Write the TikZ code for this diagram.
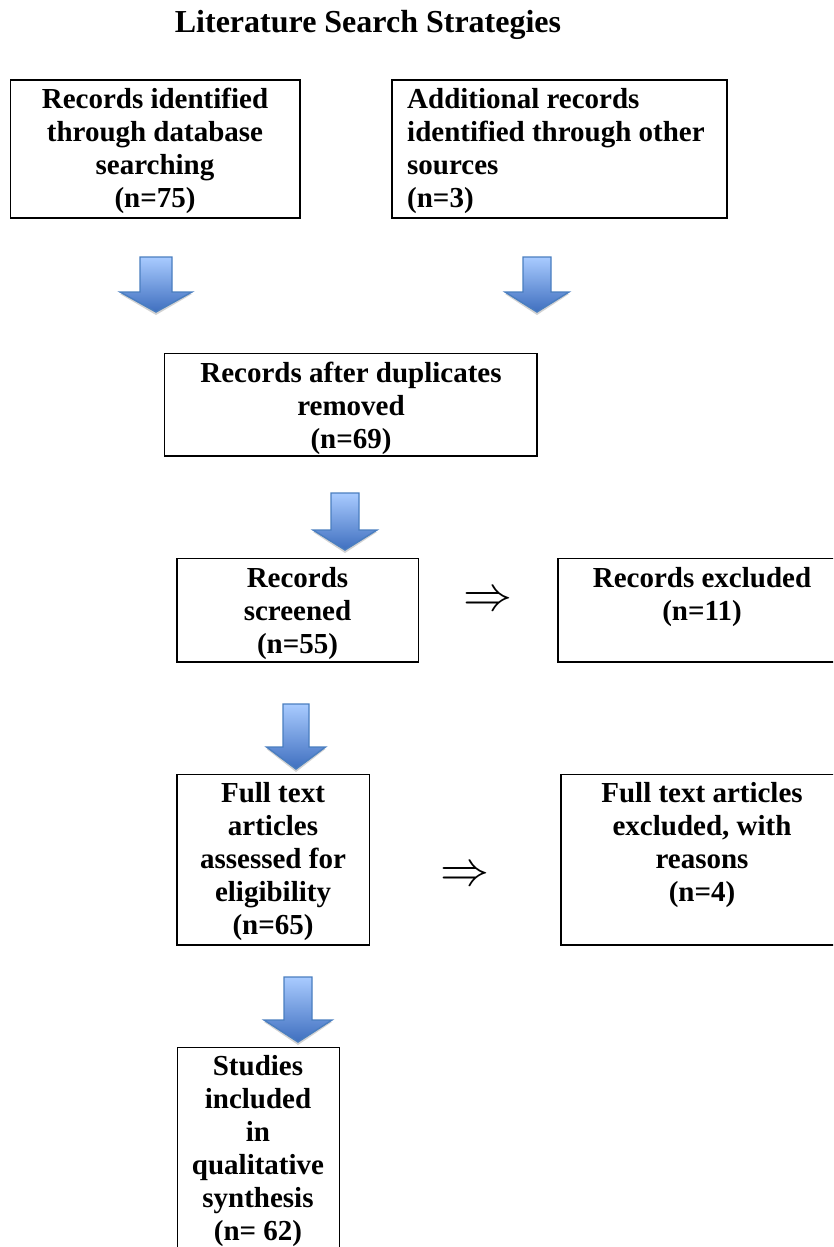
\documentclass[tikz,border=0pt]{standalone}
\usepackage{fontspec}
\setmainfont{Liberation Serif}
\usepackage{graphicx}
\usetikzlibrary{fit}
\definecolor{arrlight}{HTML}{A9CBFF}
\definecolor{arrdark}{HTML}{3F6FBF}
\definecolor{arredge}{HTML}{4A7EC0}
\tikzset{
  boxr/.style={draw=black, line width=1.6pt, inner sep=0pt},
  txt/.style={font=\fontsize{29}{33}\selectfont\bfseries, align=center, inner sep=0pt, anchor=north},
  txtl/.style={font=\fontsize{29}{33}\selectfont\bfseries, align=left, inner sep=0pt, anchor=north west},
  implies/.style={inner sep=0pt},
  arrshadow/.style={fill=gray!35},
  arrbody/.style={top color=arrlight, bottom color=arrdark, draw=arredge, line width=1.4pt, line join=miter},
}
% block arrow: #1 centre x, #2 half shaft, #3 half head, #4 top, #5 head start, #6 tip
\newcommand\blkarrow[6]{%
  \fill[arrshadow] ({#1-#3},{#5+2}) -- ({#1+#3},{#5+2}) -- (#1,{#6+3}) -- cycle;
  \shade[arrbody] ({#1-#2},#4) -- ({#1+#2},#4) -- ({#1+#2},#5) -- ({#1+#3},#5)
     -- (#1,#6) -- ({#1-#3},#5) -- ({#1-#2},#5) -- cycle;
}
\newcommand\firstline{\rule{0pt}{24pt}}
\begin{document}
\begin{tikzpicture}[x=1pt,y=-1pt]
\clip (0,0) rectangle (833,1247);
\fill[white] (0,0) rectangle (833,1247);

% title
\node[font=\fontsize{32}{36}\selectfont\bfseries, anchor=base, inner sep=0pt] (title) at (368,33) {Literature Search Strategies};

% boxes
\node[boxr, fit={(10.6,80)(299.7,218)}] (b1) {};
\node[boxr, fit={(392,80)(727,218)}] (b2) {};
\node[boxr, fit={(164.4,353.3)(537.2,456)}] (b3) {};
\node[boxr, fit={(177,558.3)(418.3,661.7)}] (b4) {};
\node[boxr, fit={(558,558.3)(846,661.7)}] (b5) {};
\node[boxr, fit={(177,774.3)(369.3,945)}] (b6) {};
\node[boxr, fit={(560.7,774.3)(846,945)}] (b7) {};
\node[boxr, fit={(177.3,1047.3)(339.3,1260)}] (b8) {};

% texts
\node[txt] (t1) at (155,{108-24}) {\firstline Records identified\\through database\\searching\\(n=75)};
\node[txtl] (t2) at (407,{108-24}) {\firstline Additional records\\identified through other\\sources\\(n=3)};
\node[txt] (t3) at (351,{382-24}) {\firstline Records after duplicates\\removed\\(n=69)};
\node[txt] (t4) at (297.5,{587-24}) {\firstline Records\\screened\\(n=55)};
\node[txt] (t5) at (702,{587-24}) {\firstline Records excluded\\(n=11)};
\node[txt] (t6) at (273,{802-24}) {\firstline Full text\\articles\\assessed for\\eligibility\\(n=65)};
\node[txt] (t7) at (702,{802-24}) {\firstline Full text articles\\excluded, with\\reasons\\(n=4)};
\node[txt] (t8) at (258,{1075-24}) {\firstline Studies\\included\\in\\qualitative\\synthesis\\(n=~62)};

% implication arrows
\node[implies] (r1) at (488,601.7) {\scalebox{4.9}{$\Rightarrow$}};
\node[implies] (r2) at (465.3,876.7) {\scalebox{4.9}{$\Rightarrow$}};

% block arrows
\blkarrow{156}{16}{36}{257}{292}{312}
\blkarrow{537}{14}{32}{257}{292}{312}
\blkarrow{345}{14}{32}{493}{530}{550}
\blkarrow{296}{13}{29.5}{704}{747}{769}
\blkarrow{298}{14}{34}{977}{1020}{1042}
\end{tikzpicture}
\end{document}
